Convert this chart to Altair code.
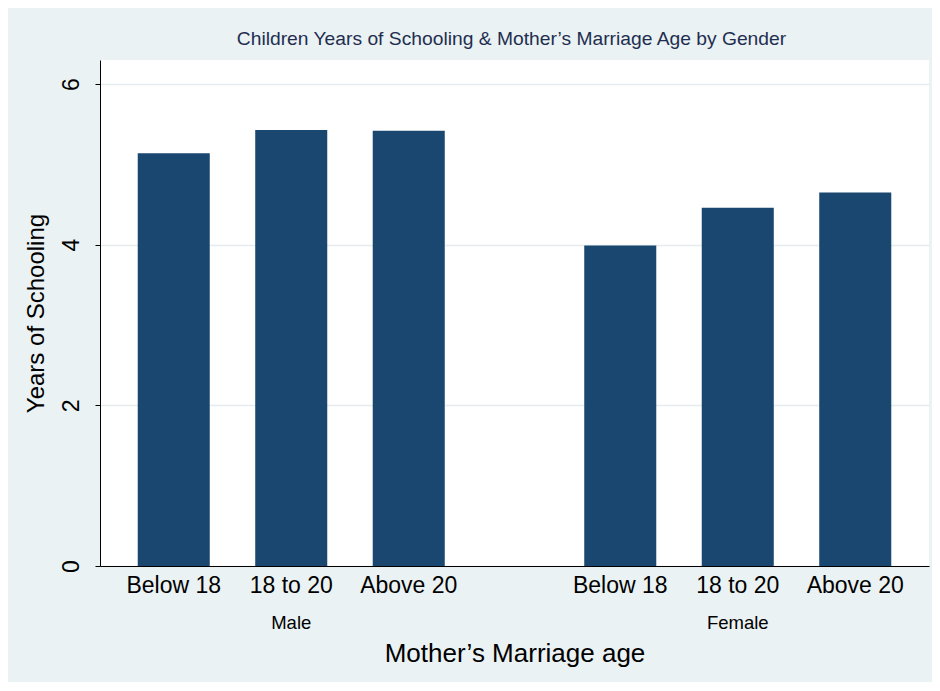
import altair as alt
import pandas as pd

genders = ["Male", "Male", "Male", "Female", "Female", "Female"]
ages = ["Below 18", "18 to 20", "Above 20", "Below 18", "18 to 20", "Above 20"]
years = [5.14, 5.43, 5.42, 3.99, 4.46, 4.65]

gender_order = ["Male", "Female"]
age_order = ["Below 18", "18 to 20", "Above 20"]
y_ticks = [0, 2, 4, 6]

df = pd.DataFrame({"gender": genders, "age": ages, "years": years})

FONT = "Liberation Sans"
NAVY = "#1A476F"

x_enc = alt.X(
    "gender:N",
    sort=gender_order,
    scale=alt.Scale(paddingInner=0.3124, paddingOuter=0.0845),
    axis=alt.Axis(
        title="Mother\u2019s Marriage age",
        titleFontSize=26,
        titleFont=FONT,
        titleFontWeight="normal",
        titleColor="black",
        titleBaseline="alphabetic",
        titleY=95,
        labelFontSize=18.5,
        labelFont=FONT,
        labelColor="black",
        labelAngle=0,
        labelBaseline="alphabetic",
        labelPadding=62,
        ticks=False,
        tickSize=0,
        domainColor="black",
        domainWidth=1,
        grid=False,
    ),
)
xoff_enc = alt.XOffset(
    "age:N", sort=age_order, scale=alt.Scale(paddingInner=0.387, paddingOuter=0)
)

base = alt.Chart(df).encode(x=x_enc, xOffset=xoff_enc)

bars = base.mark_bar(color=NAVY).encode(
    y=alt.Y(
        "years:Q",
        scale=alt.Scale(domain=[0, 6.3], nice=False, zero=True),
        axis=alt.Axis(
            values=y_ticks,
            title="Years of Schooling",
            titleFontSize=24,
            titleFont=FONT,
            titleFontWeight="normal",
            titleColor="black",
            titleAngle=270,
            titleAlign="center",
            titleBaseline="alphabetic",
            titleX=-57,
            titleY=253,
            labelFontSize=23,
            labelFont=FONT,
            labelColor="black",
            labelAngle=270,
            labelAlign="center",
            labelBaseline="alphabetic",
            labelPadding=17,
            tickSize=5,
            tickColor="black",
            domainColor="black",
            domainWidth=1,
            grid=True,
            gridColor="#E4ECEE",
            gridWidth=1.5,
        ),
    )
)

labels = base.mark_text(
    font=FONT, fontSize=23, color="black", align="center", baseline="alphabetic"
).encode(text="age:N", y=alt.value(533.3))

chart = (
    alt.layer(bars, labels)
    .properties(
        width=829,
        height=506,
        autosize=alt.AutoSizeParams(type="none"),
        padding={"left": 92, "top": 52, "right": 3, "bottom": 116},
        background="#EAF2F3",
        title=alt.TitleParams(
            "Children Years of Schooling & Mother\u2019s Marriage Age by Gender",
            font=FONT,
            fontSize=19.25,
            fontWeight="normal",
            color="#1F2E50",
            anchor="middle",
            frame="group",
            baseline="alphabetic",
            offset=14,
            dx=-3,
            dy=18,
        ),
    )
    .configure_view(fill="white", stroke=None)
)

chart.save("out.html", embed_options={"renderer": "svg", "actions": False})
